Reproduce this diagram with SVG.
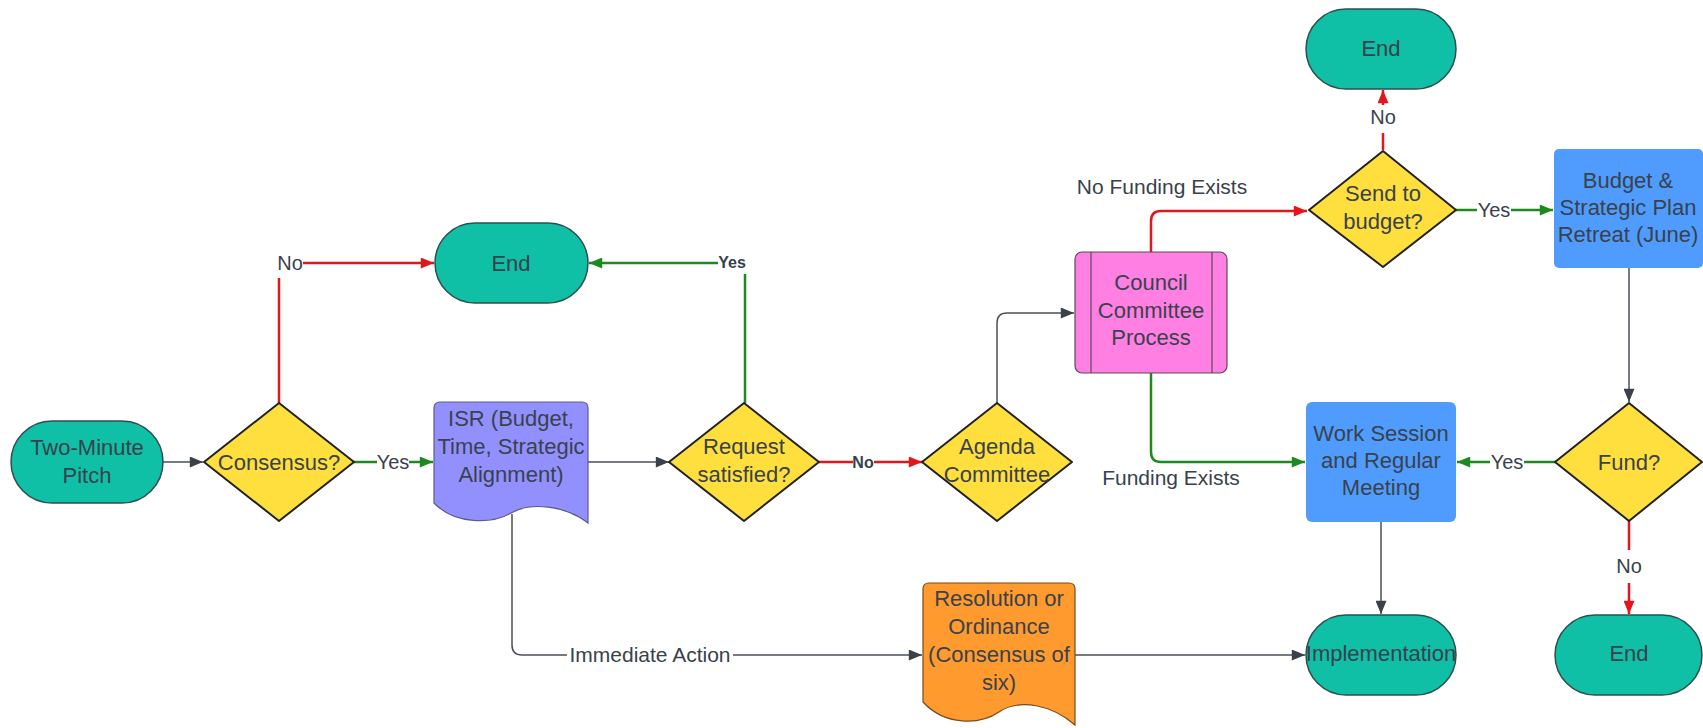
<svg xmlns="http://www.w3.org/2000/svg" width="1703" height="728" viewBox="0 0 1703 728">
<style>
.t{font-family:"Liberation Sans",Arial,sans-serif;font-size:22px;fill:#39424c;text-anchor:middle}
.l{font-family:"Liberation Sans",Arial,sans-serif;font-size:20px;fill:#39424c;text-anchor:middle}
.lb{font-family:"Liberation Sans",Arial,sans-serif;font-size:16px;font-weight:bold;fill:#39424c;text-anchor:middle}
.term{fill:#0fbfa6;stroke:#2f4f4f;stroke-width:1.5}
.dec{fill:#ffdf3d;stroke:#222;stroke-width:2;stroke-linejoin:round}
.proc{fill:#4f9cfe}
.g{fill:none;stroke:#1c8a1c;stroke-width:2.5}
.r{fill:none;stroke:#e3161c;stroke-width:2.5}
.k{fill:none;stroke:#4b5058;stroke-width:1.5}
</style>
<defs>
<marker id="ak" viewBox="0 0 12 10" refX="12" refY="5" markerWidth="14" markerHeight="11" markerUnits="userSpaceOnUse" orient="auto"><path d="M0,0 L12,5 L0,10 Z" fill="#3a414a"/></marker>
<marker id="ag" viewBox="0 0 12 10" refX="12" refY="5" markerWidth="14" markerHeight="11" markerUnits="userSpaceOnUse" orient="auto"><path d="M0,0 L12,5 L0,10 Z" fill="#1c8a1c"/></marker>
<marker id="ar" viewBox="0 0 12 10" refX="12" refY="5" markerWidth="14" markerHeight="11" markerUnits="userSpaceOnUse" orient="auto"><path d="M0,0 L12,5 L0,10 Z" fill="#e3161c"/></marker>
</defs>
<rect width="1703" height="728" fill="#ffffff"/>

<g id="connectors">
<path class="k" d="M163,462 H203" marker-end="url(#ak)"/>
<path class="g" d="M354,462 H377"/>
<text class="l" x="393" y="469">Yes</text>
<path class="g" d="M409,462 H433" marker-end="url(#ag)"/>
<path class="r" d="M279,403 V278"/>
<text class="l" x="290" y="270">No</text>
<path class="r" d="M303,263 H434" marker-end="url(#ar)"/>
<path class="k" d="M588,462 H669" marker-end="url(#ak)"/>
<path class="g" d="M745,403 V274"/>
<text class="lb" x="732" y="268">Yes</text>
<path class="g" d="M718,263 H589" marker-end="url(#ag)"/>
<path class="r" d="M819,462 H853"/>
<text class="lb" x="863" y="468">No</text>
<path class="r" d="M874,462 H922" marker-end="url(#ar)"/>
<path class="k" d="M997,403 V323 Q997,313 1007,313 H1074" marker-end="url(#ak)"/>
<path class="r" d="M1151,252 V221 Q1151,211 1161,211 H1307" marker-end="url(#ar)"/>
<text class="l" x="1162" y="194" style="font-size:21px">No Funding Exists</text>
<path class="g" d="M1151,373 V452 Q1151,462 1161,462 H1305" marker-end="url(#ag)"/>
<text class="l" x="1171" y="485" style="font-size:21px">Funding Exists</text>
<path class="r" d="M1383,150 V133"/>
<text class="l" x="1383" y="124">No</text>
<path class="r" d="M1383,105 V90" marker-end="url(#ar)"/>
<path class="g" d="M1456,210 H1477"/>
<text class="l" x="1494" y="217">Yes</text>
<path class="g" d="M1511,210 H1553" marker-end="url(#ag)"/>
<path class="k" d="M1629,268 V402" marker-end="url(#ak)"/>
<path class="g" d="M1555,462 H1524"/>
<text class="l" x="1507" y="469">Yes</text>
<path class="g" d="M1490,462 H1457" marker-end="url(#ag)"/>
<path class="r" d="M1629,521 V550"/>
<text class="l" x="1629" y="573">No</text>
<path class="r" d="M1629,583 V614" marker-end="url(#ar)"/>
<path class="k" d="M1381,522 V614" marker-end="url(#ak)"/>
<path class="k" d="M512,514 V645 Q512,655 522,655 H567"/>
<text class="l" x="650" y="662" style="font-size:21px">Immediate Action</text>
<path class="k" d="M733,655 H922" marker-end="url(#ak)"/>
<path class="k" d="M1075,655 H1305" marker-end="url(#ak)"/>
</g>

<g id="pitch">
<rect class="term" x="11" y="421" width="152" height="82" rx="41"/>
<text class="t" x="87" y="455">Two-Minute</text>
<text class="t" x="87" y="483">Pitch</text>
</g>
<g id="consensus">
<polygon class="dec" points="279,403 354,462 279,521 204,462"/>
<text class="t" x="279" y="470">Consensus?</text>
</g>
<g id="end1">
<rect class="term" x="435" y="223" width="153" height="80" rx="40"/>
<text class="t" x="511" y="271">End</text>
</g>
<g id="isr">
<path d="M440,402 H582 Q588,402 588,408 V523 C565,505 530,502 511,513 C492,524 455,525 434,503 V408 Q434,402 440,402 Z" fill="#9290fe" stroke="#5c5c8a" stroke-width="1.2"/>
<text class="t" x="511" y="426">ISR (Budget,</text>
<text class="t" x="511" y="454">Time, Strategic</text>
<text class="t" x="511" y="482">Alignment)</text>
</g>
<g id="request">
<polygon class="dec" points="744,403 819,462 744,521 669,462"/>
<text class="t" x="744" y="454">Request</text>
<text class="t" x="744" y="482">satisfied?</text>
</g>
<g id="agenda">
<polygon class="dec" points="997,403 1072,462 997,521 922,462"/>
<text class="t" x="997" y="454">Agenda</text>
<text class="t" x="997" y="482">Committee</text>
</g>
<g id="council">
<rect x="1075" y="252" width="152" height="121" rx="7" fill="#ff7fe3" stroke="#5a4a5a" stroke-width="1.2"/>
<line x1="1091" y1="252" x2="1091" y2="373" stroke="#5a4a5a" stroke-width="1.2"/>
<line x1="1212" y1="252" x2="1212" y2="373" stroke="#5a4a5a" stroke-width="1.2"/>
<text class="t" x="1151" y="290">Council</text>
<text class="t" x="1151" y="318">Committee</text>
<text class="t" x="1151" y="345">Process</text>
</g>
<g id="send">
<polygon class="dec" points="1383,151 1456,210 1383,267 1309,210"/>
<text class="t" x="1383" y="201">Send to</text>
<text class="t" x="1383" y="229">budget?</text>
</g>
<g id="end2">
<rect class="term" x="1306" y="9" width="150" height="80" rx="40"/>
<text class="t" x="1381" y="56">End</text>
</g>
<g id="retreat">
<rect class="proc" x="1554" y="149" width="149" height="119" rx="5"/>
<text class="t" x="1628" y="188">Budget &amp;</text>
<text class="t" x="1628" y="215">Strategic Plan</text>
<text class="t" x="1628" y="242">Retreat (June)</text>
</g>
<g id="fund">
<polygon class="dec" points="1629,403 1702,462 1629,521 1555,462"/>
<text class="t" x="1629" y="470">Fund?</text>
</g>
<g id="work">
<rect class="proc" x="1306" y="402" width="150" height="120" rx="6"/>
<text class="t" x="1381" y="441">Work Session</text>
<text class="t" x="1381" y="468">and Regular</text>
<text class="t" x="1381" y="495">Meeting</text>
</g>
<g id="impl">
<rect class="term" x="1306" y="615" width="150" height="80" rx="40"/>
<text class="t" x="1381" y="661">Implementation</text>
</g>
<g id="end3">
<rect class="term" x="1555" y="615" width="147" height="80" rx="40"/>
<text class="t" x="1629" y="661">End</text>
</g>
<g id="resolution">
<path d="M929,583 H1069 Q1075,583 1075,589 V725 C1052,705 1020,698 999,712 C980,725 945,726 923,702 V589 Q923,583 929,583 Z" fill="#ff9a2f" stroke="#7a4a1a" stroke-width="1.2"/>
<text class="t" x="999" y="606">Resolution or</text>
<text class="t" x="999" y="634">Ordinance</text>
<text class="t" x="999" y="662">(Consensus of</text>
<text class="t" x="999" y="690">six)</text>
</g>
</svg>
